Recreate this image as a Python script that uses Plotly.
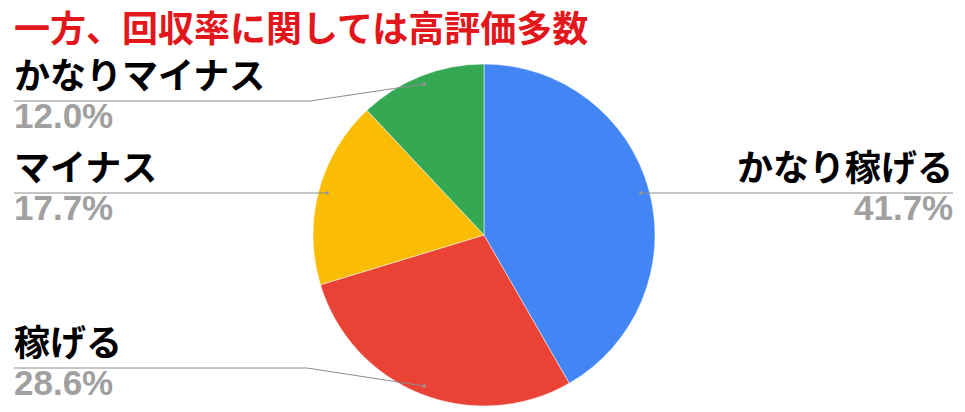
import math

import plotly.graph_objects as go

# data
labels = ["かなり稼げる", "稼げる", "マイナス", "かなりマイナス"]
values = [41.7, 28.6, 17.7, 12.0]
pct_text = ["41.7%", "28.6%", "17.7%", "12.0%"]
colors = ["#4285F4", "#EA4335", "#FBBC04", "#34A853"]
title = "一方、回収率に関しては高評価多数"

W, H = 965, 412

# pie placement in pixels
cx, cy, R = 484, 235, 171
dot_r = 0.95 * R

# label layout: (side, line y in px, bend x in px or None)
label_layout = {
    "かなり稼げる": ("right", 193, None),
    "稼げる": ("left", 368, 307),
    "マイナス": ("left", 193, None),
    "かなりマイナス": ("left", 101, 310),
}


def px(x):
    return x / W


def py(y):
    return 1 - y / H


fig = go.Figure()

fig.add_trace(go.Pie(
    labels=labels,
    values=values,
    sort=False,
    direction="clockwise",
    rotation=0,
    textinfo="none",
    hoverinfo="label+percent",
    marker=dict(colors=colors, line=dict(color="white", width=0.5)),
    domain=dict(x=[px(cx - R), px(cx + R)], y=[py(cy + R), py(cy - R)]),
    showlegend=False,
))

shapes = []
annotations = []
total = sum(values)
start = 0.0
grey = "#a0a0a0"
for lab, val, pt in zip(labels, values, pct_text):
    # dot sits at the middle angle of the slice
    mid = (start + val / 2) / total * 2 * math.pi
    start += val
    dx = cx + dot_r * math.sin(mid)
    dy = cy - dot_r * math.cos(mid)
    side, ly, bend = label_layout[lab]

    shapes.append(dict(type="circle", xref="paper", yref="paper",
                       x0=px(dx - 1.8), x1=px(dx + 1.8), y0=py(dy + 1.8), y1=py(dy - 1.8),
                       fillcolor="#9a9a9a", line=dict(width=0)))
    if side == "left":
        end_x = 14
    else:
        end_x = 953
    if bend is None:
        pts = [(dx, ly), (end_x, ly)]
    else:
        pts = [(dx, dy), (bend, ly), (end_x, ly)]
    path = "M " + " L ".join("%f,%f" % (px(a), py(b)) for a, b in pts)
    shapes.append(dict(type="path", xref="paper", yref="paper", path=path,
                       line=dict(color="#8c8c8c", width=1)))

    anchor = "left" if side == "left" else "right"
    tx = px(end_x - 2) if side == "left" else px(end_x + 2)
    annotations.append(dict(
        text="<b>%s</b>" % lab, xref="paper", yref="paper",
        x=tx, y=py(ly), xanchor=anchor, yanchor="bottom", showarrow=False,
        font=dict(family="Noto Sans CJK JP", size=36, color="#000000"),
    ))
    annotations.append(dict(
        text="<b>%s</b>" % pt, xref="paper", yref="paper",
        x=tx, y=py(ly - 7), xanchor=anchor, yanchor="top", showarrow=False,
        font=dict(family="Liberation Sans, Arial", size=35, color=grey),
    ))

annotations.append(dict(
    text="<b>%s</b>" % title, xref="paper", yref="paper",
    x=px(12), y=py(-2), xanchor="left", yanchor="top", showarrow=False,
    font=dict(family="Noto Sans CJK JP", size=36, color="#e3161c"),
))

fig.update_layout(
    width=W, height=H,
    margin=dict(l=0, r=0, t=0, b=0),
    paper_bgcolor="white",
    plot_bgcolor="white",
    shapes=shapes,
    annotations=annotations,
)

fig.write_html("out.html", config={"displayModeBar": False},
               post_script="document.body.style.margin='0';")
